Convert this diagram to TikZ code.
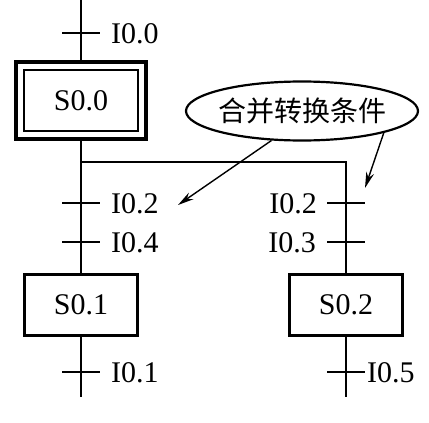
\documentclass[tikz,border=0pt]{standalone}
\usepackage{fontspec}
\setmainfont{Liberation Serif}
\newfontfamily\cjk{Noto Sans CJK SC}
\usetikzlibrary{arrows.meta,shapes.geometric}
\begin{document}
\begin{tikzpicture}[x=1pt,y=-1pt,
  wire/.style={line width=1.6pt},
  stepbox/.style={draw,line width=2.8pt,minimum width=113pt,minimum height=61pt,inner sep=0pt,
    font=\fontsize{30}{30}\selectfont},
  lbl/.style={inner sep=0pt,font=\fontsize{30}{30}\selectfont},
  callout/.style={line width=1.4pt,-{Stealth[length=16pt,width=8pt]}}]
\useasboundingbox (0,0) rectangle (429,423);
% nodes
\node[stepbox,minimum width=130pt,minimum height=77pt,line width=3.2pt] (s00o) at (81,100.5) {};
\node[stepbox,minimum width=114pt,minimum height=61pt] (s00) at (81,100.5) {S0.0};
\node[stepbox] (s01) at (81,305) {S0.1};
\node[stepbox] (s02) at (346,305) {S0.2};
\node[draw,ellipse,line width=2.2pt,minimum width=232pt,minimum height=59pt,inner sep=0pt] (ell) at (302,111) {};
\node[inner sep=0pt,font=\fontsize{28}{28}\selectfont\cjk] (elltext) at (ell.center) {合并转换条件};
% coordinates
\coordinate (top) at (81,0);
\coordinate (bl) at (81,397);
\coordinate (br) at (346,397);
\coordinate (jl) at (81,162);
\coordinate (jr) at (346,162);
\coordinate (t00) at (81,33);
\coordinate (t02l) at (81,203);
\coordinate (t04) at (81,242);
\coordinate (t01) at (81,372);
\coordinate (t02r) at (346,203);
\coordinate (t03) at (346,242);
\coordinate (t05) at (346,372);
\coordinate (tipL) at (178,205);
\coordinate (tipR) at (365,188);
% wires
\draw[wire] (top) -- (s00o.north);
\draw[wire] (s00o.south) -- (s01.north);
\draw[wire] (s01.south) -- (bl);
\draw[wire] (jl) -- (jr) -- (s02.north);
\draw[wire] (s02.south) -- (br);
% ticks
\foreach \t in {t00,t02l,t04,t01,t02r,t03,t05}
  \draw[wire] ([xshift=-19pt]\t) -- ([xshift=19pt]\t);
% labels
\node[lbl,anchor=west] (l00) at (111,34) {I0.0};
\node[lbl,anchor=west] (l02l) at (111,204) {I0.2};
\node[lbl,anchor=west] (l04) at (111,243) {I0.4};
\node[lbl,anchor=west] (l01) at (111,373) {I0.1};
\node[lbl,anchor=east] (l02r) at (317,204) {I0.2};
\node[lbl,anchor=east] (l03) at (316,243) {I0.3};
\node[lbl,anchor=west] (l05) at (367,373) {I0.5};
% callout arrows
\draw[callout] (ell.-136) -- (tipL);
\draw[callout] (ell.-15) -- (tipR);
\end{tikzpicture}
\end{document}
